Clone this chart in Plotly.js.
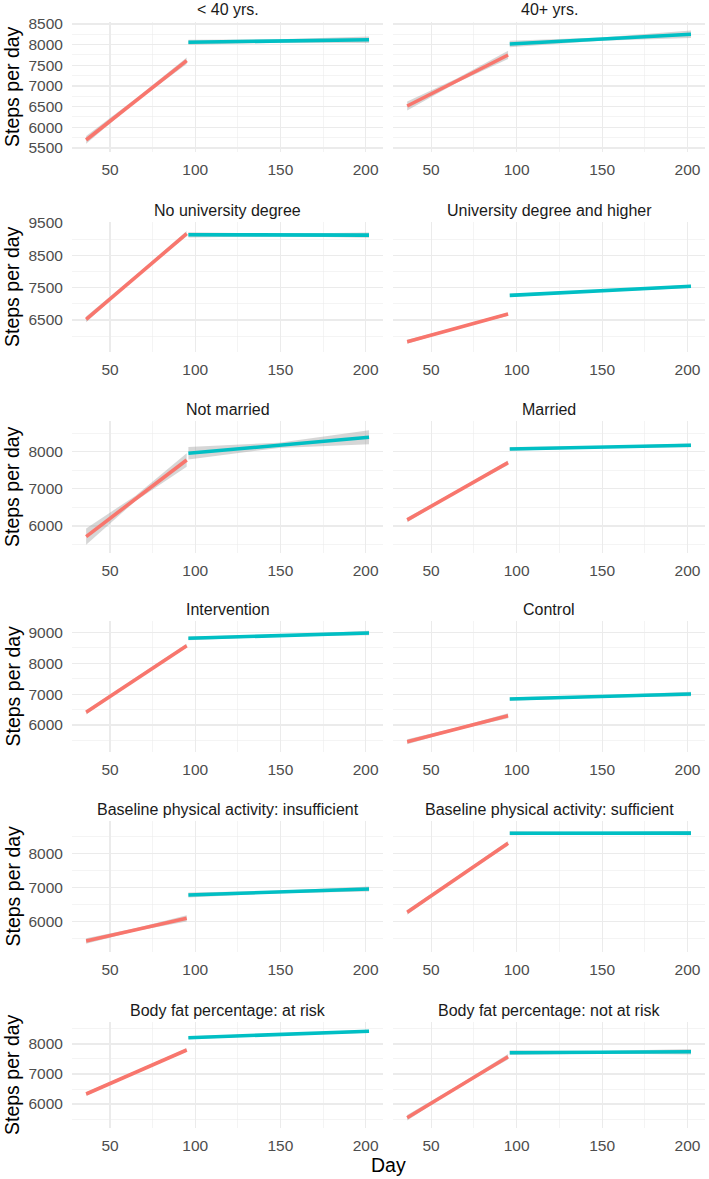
<!DOCTYPE html>
<html>
<head>
<meta charset="utf-8">
<script src="https://cdn.plot.ly/plotly-3.0.1.min.js"></script>
<style>html,body{margin:0;padding:0;background:#fff;}#chart{width:709px;height:1179px;}</style>
</head>
<body>
<div id="chart"></div>
<script>
// ---------- data ----------
const panelTitles = ["< 40 yrs.", "40+ yrs.", "No university degree", "University degree and higher",
  "Not married", "Married", "Intervention", "Control",
  "Baseline physical activity: insufficient", "Baseline physical activity: sufficient",
  "Body fat percentage: at risk", "Body fat percentage: not at risk"];

const redDays = [36, 95];
const cyanDays = [96, 202];
const redBandDays = [36, 65, 95];
const cyanBandDays = [96, 149, 202];

const redFit = [[5693, 7612], [6516, 7750], [6521, 9170], [5829, 6685], [5715, 7777], [6164, 7704],
  [6411, 8566], [5460, 6301], [5436, 6099], [6275, 8292], [6333, 7800], [5544, 7577]];
const cyanFit = [[8057, 8120], [8016, 8250], [9135, 9125], [7263, 7542], [7957, 8387], [8073, 8172],
  [8806, 8977], [6842, 7003], [6781, 6956], [8585, 8590], [8210, 8423], [7710, 7743]];

const redLower = [[5600, 6610, 7530], [6406, 7080, 7650], [6431, 7805, 9090], [5769, 6227, 6635],
  [5495, 6676, 7597], [6104, 6904, 7644], [6341, 7453, 8506], [5380, 5840, 6221],
  [5356, 5727, 6009], [6205, 7248, 8222], [6273, 7036, 7740], [5454, 6520, 7487]];
const redUpper = [[5790, 6690, 7690], [6626, 7180, 7850], [6611, 7885, 9250], [5889, 6287, 6735],
  [5935, 6816, 7957], [6224, 6964, 7764], [6481, 7523, 8626], [5540, 5920, 6381],
  [5516, 5807, 6189], [6345, 7318, 8362], [6393, 7096, 7860], [5634, 6600, 7667]];
const cyanLower = [[7997, 8048, 8040], [7936, 8093, 8160], [9055, 9090, 9045], [7213, 7377, 7492],
  [7787, 8102, 8197], [8023, 8097, 8122], [8746, 8861, 8907], [6782, 6892, 6933],
  [6711, 6833, 6886], [8525, 8557, 8530], [8160, 8291, 8373], [7630, 7686, 7653]];
const cyanUpper = [[8117, 8128, 8200], [8096, 8173, 8340], [9215, 9170, 9205], [7313, 7427, 7592],
  [8127, 8242, 8577], [8123, 8147, 8222], [8866, 8921, 9047], [6902, 6952, 7073],
  [6851, 6903, 7026], [8645, 8617, 8650], [8260, 8341, 8473], [7790, 7766, 7833]];

const xTickVals = [50, 100, 150, 200];
const yAxisTitle = "Steps per day";
const xAxisTitle = "Day";

// ---------- layout constants ----------
const W = 709, H = 1179;
const colPx = [[72, 383], [393, 705]];
const rowPx = [[22, 152], [222, 352], [421, 553], [621, 752], [821, 952], [1022, 1128]];
const yRanges = [[5403, 8548], [5510, 9531], [5273, 8826], [5126, 9366], [5114, 8944], [5200, 8733]];
const yTicks = [{t0: 0, d: 500, m: 250}, {t0: 500, d: 1000, m: 500}, {t0: 0, d: 1000, m: 500},
  {t0: 0, d: 1000, m: 500}, {t0: 0, d: 1000, m: 500}, {t0: 0, d: 1000, m: 500}];
const RED = "#F8766D", CYAN = "#00BFC4", BAND = "rgba(153,153,153,0.4)", GRID = "#EBEBEB";
const FONT = "Liberation Sans, Arial, sans-serif";

const traces = [];
const layout = {
  width: W, height: H, margin: {l: 0, r: 0, t: 0, b: 0},
  paper_bgcolor: "#fff", plot_bgcolor: "#fff", showlegend: false, hovermode: false,
  font: {family: FONT, color: "#4D4D4D", size: 15.5},
  annotations: []
};

function band(days, lo, hi, ax) {
  return {
    type: "scatter", mode: "lines", x: days.concat(days.slice().reverse()),
    y: hi.concat(lo.slice().reverse()), fill: "toself", fillcolor: BAND,
    line: {width: 0, color: "rgba(0,0,0,0)"}, xaxis: "x" + ax, yaxis: "y" + ax, hoverinfo: "skip"
  };
}
function fitLine(days, vals, color, ax) {
  return {type: "scatter", mode: "lines", x: days, y: vals, line: {color: color, width: 3.6},
    xaxis: "x" + ax, yaxis: "y" + ax, hoverinfo: "skip"};
}

for (let i = 0; i < 12; i++) {
  const r = Math.floor(i / 2), c = i % 2, n = i + 1, ax = n > 1 ? String(n) : "";
  traces.push(band(redBandDays, redLower[i], redUpper[i], ax));
  traces.push(fitLine(redDays, redFit[i], RED, ax));
  traces.push(band(cyanBandDays, cyanLower[i], cyanUpper[i], ax));
  traces.push(fitLine(cyanDays, cyanFit[i], CYAN, ax));

  const xd = [colPx[c][0] / W, colPx[c][1] / W];
  const yd = [1 - rowPx[r][1] / H, 1 - rowPx[r][0] / H];
  layout["xaxis" + ax] = {
    domain: xd, anchor: "y" + ax, range: [27.7, 210.2], tickvals: xTickVals,
    showgrid: true, gridcolor: GRID, gridwidth: 1.1, zeroline: false, showline: false,
    ticks: "outside", ticklen: 3, tickcolor: "rgba(0,0,0,0)",
    tickfont: {family: FONT, size: 15.5, color: "#4D4D4D"},
    minor: {tickvals: [25, 75, 125, 175], showgrid: true, gridcolor: GRID, gridwidth: 0.55}
  };
  const yt = yTicks[r];
  layout["yaxis" + ax] = {
    domain: yd, anchor: "x" + ax, range: yRanges[r], tick0: yt.t0, dtick: yt.d,
    showgrid: true, gridcolor: GRID, gridwidth: 1.1, zeroline: false, showline: false,
    showticklabels: c === 0, ticks: "outside", ticklen: 5, tickcolor: "rgba(0,0,0,0)",
    tickfont: {family: FONT, size: 15.5, color: "#4D4D4D"},
    minor: {tick0: 0, dtick: yt.m, showgrid: true, gridcolor: GRID, gridwidth: 0.55}
  };
  layout.annotations.push({
    text: panelTitles[i].replace(/</g, "&lt;"), xref: "paper", yref: "paper",
    x: (xd[0] + xd[1]) / 2, y: 1 - (rowPx[r][0] - 12) / H, xanchor: "center", yanchor: "middle",
    showarrow: false, font: {family: FONT, size: 16, color: "#1A1A1A"}
  });
  if (c === 0) {
    layout.annotations.push({
      text: yAxisTitle, xref: "paper", yref: "paper", x: 12 / W,
      y: 1 - (rowPx[r][0] + rowPx[r][1]) / 2 / H, xanchor: "center", yanchor: "middle",
      textangle: -90, showarrow: false, font: {family: FONT, size: 19.5, color: "#000"}
    });
  }
}
layout.annotations.push({
  text: xAxisTitle, xref: "paper", yref: "paper", x: 388 / W, y: 1 - 1165 / H,
  xanchor: "center", yanchor: "middle", showarrow: false, font: {family: FONT, size: 19.5, color: "#000"}
});

Plotly.newPlot("chart", traces, layout, {displayModeBar: false, staticPlot: true});
</script>
</body>
</html>
